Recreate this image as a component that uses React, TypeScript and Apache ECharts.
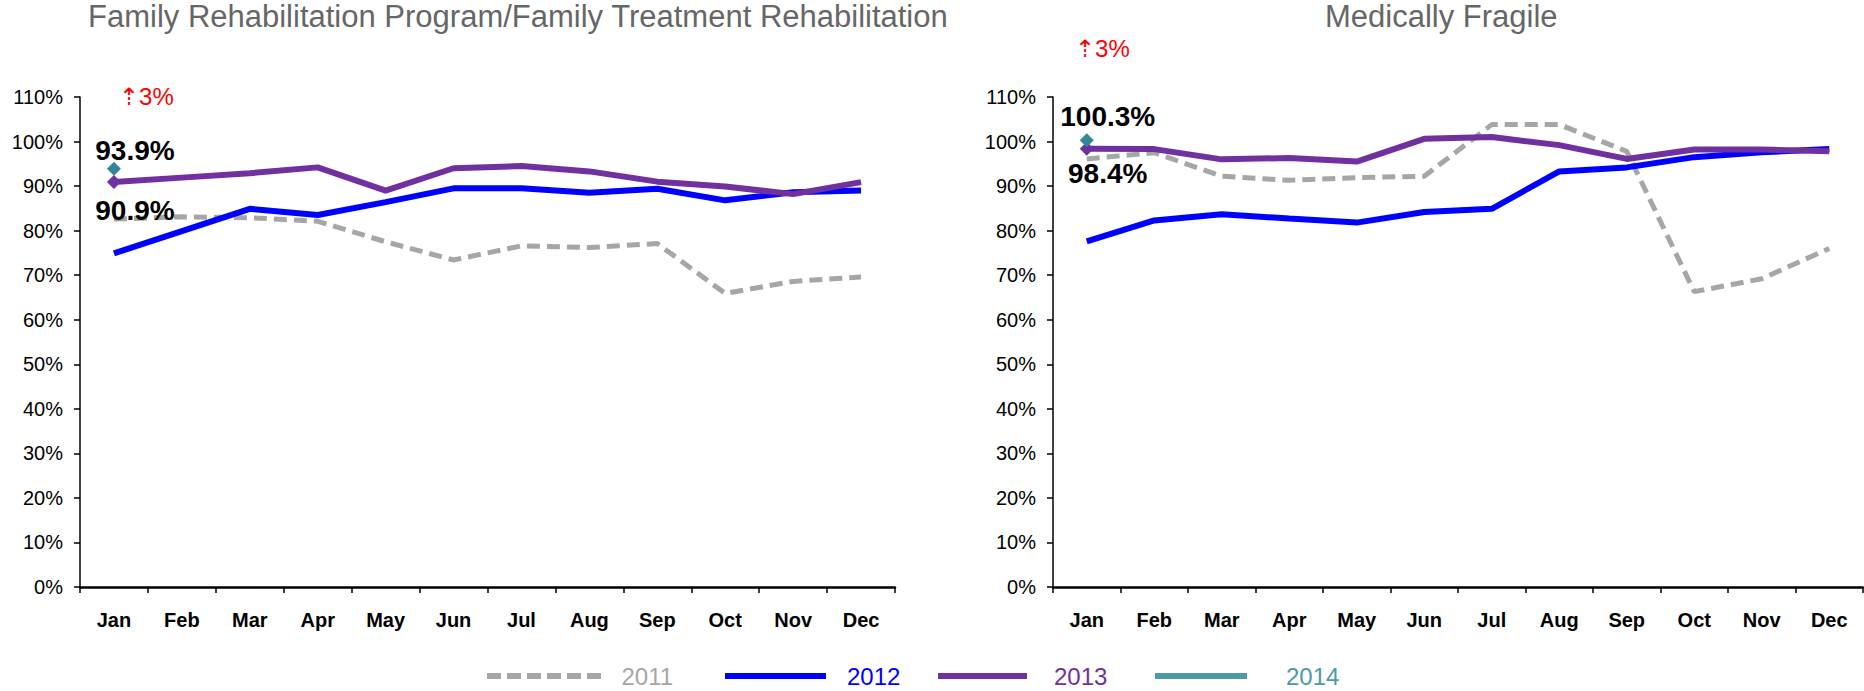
import React, { useEffect, useRef } from 'react';
import * as echarts from 'echarts';

const months = ['Jan', 'Feb', 'Mar', 'Apr', 'May', 'Jun', 'Jul', 'Aug', 'Sep', 'Oct', 'Nov', 'Dec'];
const yearNames = ['2011', '2012', '2013', '2014'];

const left2011 = [82.6, 83.1, 82.9, 82.1, 77.5, 73.4, 76.6, 76.2, 77.1, 65.9, 68.6, 69.6];
const left2012 = [74.9, 79.9, 84.9, 83.5, 86.4, 89.5, 89.5, 88.5, 89.4, 86.8, 88.6, 89.0];
const left2013 = [90.9, 91.9, 92.9, 94.2, 89.0, 94.0, 94.5, 93.3, 91.0, 89.9, 88.2, 90.9];
const left2014 = [93.9];

const right2011 = [96.1, 97.5, 92.2, 91.3, 91.9, 92.2, 103.8, 103.8, 97.8, 66.3, 69.2, 76.0];
const right2012 = [77.6, 82.3, 83.7, 82.7, 81.8, 84.2, 84.9, 93.3, 94.2, 96.5, 97.6, 98.3];
const right2013 = [98.4, 98.3, 96.0, 96.3, 95.5, 100.6, 101.0, 99.2, 96.1, 98.2, 98.2, 97.8];
const right2014 = [100.3];

const titles = ['Family Rehabilitation Program/Family Treatment Rehabilitation', 'Medically Fragile'];
const changeNotes = ['⇡3%', '⇡3%'];

const FONT = '"Liberation Sans", Arial, "DejaVu Sans", sans-serif';
const C2011 = '#A6A6A6';
const C2012 = '#0000FF';
const C2013 = '#7030A0';
const C2014 = '#31869B';
const C2014L = '#4A9BA3';

const DASH_ICON =
  'path://M0,0H14V6H0Z M20,0H34V6H20Z M40,0H54V6H40Z M60,0H74V6H60Z M80,0H94V6H80Z M100,0H114V6H100Z';

function labelled(values: number[], pos: 'top' | 'bottom', dist: number, dy: number) {
  return values.map((v, i) =>
    i === 0
      ? {
          value: v,
          symbol: 'diamond',
          symbolSize: 14,
          label: {
            show: true,
            position: pos,
            distance: dist,
            offset: [21, dy],
            formatter: '{c}%',
            fontSize: 28,
            fontWeight: 'bold',
            color: '#000',
            fontFamily: FONT,
          },
        }
      : v
  );
}

function seriesFor(idx: number, d11: number[], d12: number[], d13: number[], d14: number[], topDy: number, botDy: number) {
  const base = { type: 'line', xAxisIndex: idx, yAxisIndex: idx, symbol: 'none', showSymbol: true };
  return [
    { ...base, name: yearNames[0], data: d11, itemStyle: { color: C2011 }, lineStyle: { color: C2011, width: 5, type: [13, 7] } },
    { ...base, name: yearNames[1], data: d12, itemStyle: { color: C2012 }, lineStyle: { color: C2012, width: 6 } },
    { ...base, name: yearNames[2], data: labelled(d13, 'bottom', 4, botDy), itemStyle: { color: C2013 }, lineStyle: { color: C2013, width: 6 } },
    { ...base, name: yearNames[3], data: labelled(d14, 'top', 0, topDy), itemStyle: { color: C2014 }, lineStyle: { color: C2014, width: 6 } },
  ];
}

const xAxisBase = {
  type: 'category',
  data: months,
  boundaryGap: true,
  axisLine: { show: true, lineStyle: { color: '#000', width: 2.5 } },
  axisTick: { show: true, length: 6, lineStyle: { color: '#000', width: 1.5 } },
  axisLabel: { fontSize: 20, fontWeight: 'bold', color: '#000', margin: 23, fontFamily: FONT },
  splitLine: { show: false },
};

const yAxisBase = {
  type: 'value',
  min: 0,
  max: 110,
  interval: 10,
  axisLine: { show: true, lineStyle: { color: '#000', width: 1.5 } },
  axisTick: { show: true, length: 6, lineStyle: { color: '#000', width: 1.5 } },
  axisLabel: { fontSize: 20, color: '#000', margin: 17, formatter: '{value}%', fontFamily: FONT },
  splitLine: { show: false },
};

const legendSpecs = [
  { left: 487, w: 119, pad: 13, color: C2011, icon: DASH_ICON },
  { left: 725, w: 101, pad: 16, color: C2012, icon: 'rect' },
  { left: 938, w: 89, pad: 22, color: C2013, icon: 'rect' },
  { left: 1155, w: 92, pad: 34, color: C2014L, icon: 'rect' },
];

const option: any = {
  animation: false,
  backgroundColor: '#fff',
  textStyle: { fontFamily: FONT },
  title: [
    { text: titles[0], left: 88, top: 1, padding: 0, textStyle: { fontSize: 31, fontWeight: 'normal', color: '#666', fontFamily: FONT } },
    { text: titles[1], left: 1325, top: 1, padding: 0, textStyle: { fontSize: 31, fontWeight: 'normal', color: '#666', fontFamily: FONT } },
  ],
  legend: legendSpecs.map((s, i) => ({
    left: s.left,
    top: 664,
    padding: 0,
    itemWidth: s.w,
    itemHeight: 6,
    selectedMode: false,
    data: [
      {
        name: yearNames[i],
        icon: s.icon,
        itemStyle: { color: s.color },
        textStyle: { color: s.color, fontSize: 24, lineHeight: 22, fontFamily: FONT, padding: [0, 0, 0, s.pad] },
      },
    ],
  })),
  grid: [
    { left: 80, top: 97, width: 815, height: 490 },
    { left: 1053, top: 97, width: 810, height: 490 },
  ],
  xAxis: [
    { ...xAxisBase, gridIndex: 0 },
    { ...xAxisBase, gridIndex: 1 },
  ],
  yAxis: [
    { ...yAxisBase, gridIndex: 0 },
    { ...yAxisBase, gridIndex: 1 },
  ],
  graphic: [
    { type: 'text', left: 119, top: 84, style: { text: changeNotes[0], fill: '#FF0000', font: `24px ${FONT}` } },
    { type: 'text', left: 1075, top: 36, style: { text: changeNotes[1], fill: '#FF0000', font: `24px ${FONT}` } },
  ],
  series: [
    ...seriesFor(0, left2011, left2012, left2013, left2014, 3, 3),
    ...seriesFor(1, right2011, right2012, right2013, right2014, -3, 0),
  ],
};

export default function App() {
  const ref = useRef<HTMLDivElement>(null);
  useEffect(() => {
    document.body.style.margin = '0';
    const chart = echarts.init(ref.current!, null, { renderer: 'svg' });
    chart.setOption(option);
    return () => chart.dispose();
  }, []);
  return <div ref={ref} style={{ width: 1864, height: 691 }} />;
}
